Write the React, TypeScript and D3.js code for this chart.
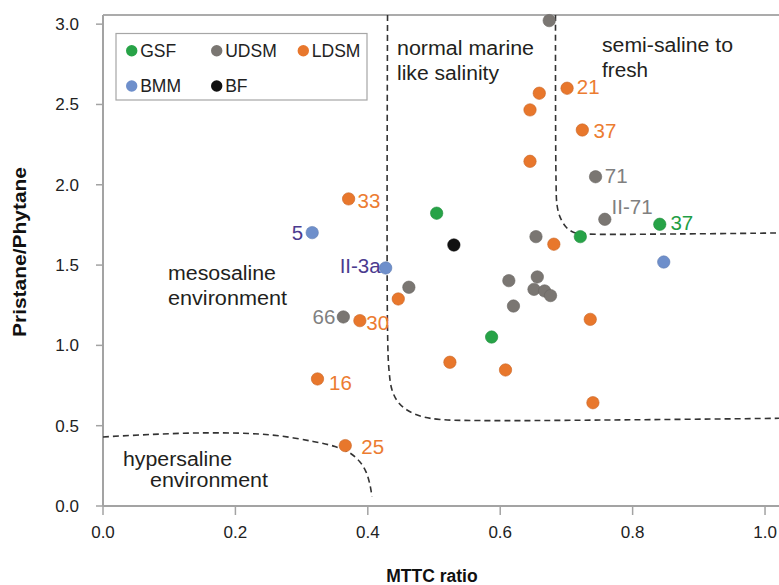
import React from "react";
import * as d3 from "d3";

// ---------- data ----------
const seriesNames = ["GSF", "UDSM", "LDSM", "BMM", "BF"];

const gsf: [number, number][] = [
  [0.504, 1.823], [0.721, 1.677], [0.587, 1.052], [0.841, 1.754],
];
const udsm: [number, number][] = [
  [0.674, 3.022], [0.744, 2.05], [0.758, 1.785], [0.654, 1.677], [0.363, 1.177],
  [0.462, 1.362], [0.613, 1.403], [0.656, 1.426], [0.651, 1.349], [0.667, 1.339],
  [0.676, 1.31], [0.62, 1.245],
];
const ldsm: [number, number][] = [
  [0.701, 2.601], [0.659, 2.57], [0.645, 2.466], [0.724, 2.341], [0.645, 2.146],
  [0.371, 1.912], [0.681, 1.63], [0.446, 1.289], [0.388, 1.154], [0.736, 1.162],
  [0.324, 0.791], [0.366, 0.376], [0.524, 0.895], [0.608, 0.847], [0.74, 0.643],
];
const bmm: [number, number][] = [[0.316, 1.702], [0.427, 1.482], [0.847, 1.519]];
const bf: [number, number][] = [[0.53, 1.625]];

const seriesData = [gsf, udsm, ldsm, bmm, bf];

// sample labels: series, point index, text
const pointLabels = [
  { series: "BMM", index: 0, text: "5" },
  { series: "BMM", index: 1, text: "II-3a" },
  { series: "LDSM", index: 5, text: "33" },
  { series: "UDSM", index: 4, text: "66" },
  { series: "LDSM", index: 8, text: "30" },
  { series: "LDSM", index: 10, text: "16" },
  { series: "LDSM", index: 11, text: "25" },
  { series: "LDSM", index: 0, text: "21" },
  { series: "LDSM", index: 3, text: "37" },
  { series: "UDSM", index: 1, text: "71" },
  { series: "UDSM", index: 2, text: "II-71" },
  { series: "GSF", index: 3, text: "37" },
];

// environment boundaries (data coordinates)
const boundaryMarine: [number, number][] = [
  [0.4298, 3.057], [0.4298, 1.096], [0.432, 0.847], [0.4366, 0.722], [0.4456, 0.648],
  [0.4592, 0.598], [0.4819, 0.557], [0.5091, 0.539], [0.5695, 0.532], [0.7508, 0.535],
  [1.0211, 0.546],
];
const boundaryFresh: [number, number][] = [
  [0.6835, 3.057], [0.6843, 2.03], [0.6858, 1.874], [0.6903, 1.8], [0.6994, 1.737],
  [0.7115, 1.703], [0.7281, 1.694], [0.8716, 1.694], [1.0211, 1.7],
];
const boundaryHyper: [number, number][] = [
  [0, 0.43], [0.071, 0.445], [0.1465, 0.455], [0.2221, 0.451], [0.2674, 0.436],
  [0.3172, 0.402], [0.3505, 0.37], [0.3731, 0.33], [0.3882, 0.274], [0.3973, 0.212],
  [0.4033, 0.131], [0.4063, 0.056],
];

const xTicks = [0, 0.2, 0.4, 0.6, 0.8, 1.0];
const yTicks = [0, 0.5, 1.0, 1.5, 2.0, 2.5, 3.0];

const regionLabels = [
  { lines: ["normal marine", "like salinity"] },
  { lines: ["semi-saline to", "fresh"] },
  { lines: ["mesosaline", "environment"] },
  { lines: ["hypersaline", "environment"] },
];

// ---------- styles / layout ----------
const W = 779;
const H = 585;
const pointColors: Record<string, string> = {
  GSF: "#27a347",
  UDSM: "#7a7672",
  LDSM: "#e8772c",
  BMM: "#6e8fcb",
  BF: "#111111",
};
const labelColors: Record<string, string> = {
  GSF: "#1f9e45",
  UDSM: "#808080",
  LDSM: "#ec7c31",
  BMM: "#4b3b8f",
  BF: "#111111",
};
const labelPlace: Record<string, { dx: number; dy: number; anchor: string }> = {
  "5": { dx: -9, dy: 7.5, anchor: "end" },
  "II-3a": { dx: -5, dy: 5.5, anchor: "end" },
  "33": { dx: 9, dy: 9.3, anchor: "start" },
  "66": { dx: -8, dy: 7, anchor: "end" },
  "30": { dx: 6.5, dy: 9.5, anchor: "start" },
  "16": { dx: 11.5, dy: 11, anchor: "start" },
  "25": { dx: 16, dy: 8.3, anchor: "start" },
  "21": { dx: 9.7, dy: 5.8, anchor: "start" },
  "LDSM-37": { dx: 11.3, dy: 7.7, anchor: "start" },
  "71": { dx: 9.3, dy: 6, anchor: "start" },
  "II-71": { dx: 6.7, dy: -5.3, anchor: "start" },
  "GSF-37": { dx: 10.7, dy: 5.8, anchor: "start" },
};
const regionPlace = [
  { x: 397, y: 55, lens: [137, 102] },
  { x: 602, y: 52, lens: [131, 46] },
  { x: 168, y: 280, lens: [108, 119] },
  { x: 123, y: 466, lens: [109, 118], indent: [0, 27] },
];
const legendPos = [
  { cx: 131.7, cy: 50.7 },
  { cx: 216.7, cy: 50.7 },
  { cx: 303.3, cy: 50.7 },
  { cx: 131.7, cy: 86 },
  { cx: 216.7, cy: 86 },
];

const FONT = "'Liberation Sans', Arial, Helvetica, sans-serif";

export default function App() {
  const x = d3.scaleLinear().domain([0, 1.0211]).range([103, 779]);
  const y = d3.scaleLinear().domain([0, 3.057]).range([506, 15]);
  const line = d3
    .line<[number, number]>()
    .x((d) => x(d[0]))
    .y((d) => y(d[1]))
    .curve(d3.curveCatmullRom.alpha(0.5));

  const axisColor = "#a3a3a3";
  const dash = { stroke: "#333", strokeWidth: 1.6, strokeDasharray: "6,4", fill: "none" };

  return (
    <svg
      width={W}
      height={H}
      viewBox={`0 0 ${W} ${H}`}
      style={{ position: "absolute", left: 0, top: 0, background: "#fff" }}
      fontFamily={FONT}
    >
      <rect x={0} y={0} width={W} height={H} fill="#fff" />
      {/* frame top line */}
      <line x1={x(0)} x2={W} y1={y.range()[1]} y2={y.range()[1]} stroke="#8f8f8f" strokeWidth={1.5} />
      {/* axes */}
      <line x1={x(0)} x2={x(0)} y1={y.range()[1]} y2={y(0)} stroke={axisColor} strokeWidth={2} />
      <line x1={x(0)} x2={W} y1={y(0)} y2={y(0)} stroke={axisColor} strokeWidth={2} />
      {yTicks.map((t) => (
        <g key={"yt" + t}>
          <line x1={x(0) - 7} x2={x(0)} y1={y(t)} y2={y(t)} stroke={axisColor} strokeWidth={1.5} />
          <text x={79} y={y(t) + 6} textAnchor="end" fontSize={17} fill="#222">
            {d3.format(".1f")(t)}
          </text>
        </g>
      ))}
      {xTicks.map((t) => (
        <g key={"xt" + t}>
          <line x1={x(t)} x2={x(t)} y1={y(0)} y2={y(0) + 9} stroke={axisColor} strokeWidth={1.5} />
          <text x={x(t)} y={538} textAnchor="middle" fontSize={17} fill="#222">
            {d3.format(".1f")(t)}
          </text>
        </g>
      ))}
      <text
        transform={`translate(26,252) rotate(-90)`}
        textAnchor="middle"
        fontSize={17.5}
        fontWeight="bold"
        fill="#111"
        textLength={170}
        lengthAdjust="spacingAndGlyphs"
      >
        Pristane/Phytane
      </text>
      <text x={432} y={582} textAnchor="middle" fontSize={17.5} fontWeight="bold" fill="#111">
        MTTC ratio
      </text>

      {/* boundaries */}
      <path d={line(boundaryMarine) || ""} {...dash} />
      <path d={line(boundaryFresh) || ""} {...dash} />
      <path d={line(boundaryHyper) || ""} {...dash} />

      {/* region labels */}
      {regionLabels.map((r, i) =>
        r.lines.map((ln, j) => (
          <text
            key={"r" + i + j}
            x={regionPlace[i].x + (regionPlace[i].indent ? regionPlace[i].indent![j] : 0)}
            y={regionPlace[i].y + j * (i === 3 ? 21 : 24.5)}
            fontSize={19.5}
            fill="#231f20"
            textLength={regionPlace[i].lens[j]}
            lengthAdjust="spacingAndGlyphs"
          >
            {ln}
          </text>
        ))
      )}

      {/* points */}
      {seriesData.map((pts, si) =>
        pts.map((p, pi) => {
          const c = pointColors[seriesNames[si]];
          return (
            <circle
              key={"p" + si + "-" + pi}
              cx={x(p[0])}
              cy={y(p[1])}
              r={6.2}
              fill={c}
              stroke={d3.color(c)!.darker(0.4).formatHex()}
              strokeWidth={0.6}
            />
          );
        })
      )}

      {/* point labels */}
      {pointLabels.map((l, i) => {
        const si = seriesNames.indexOf(l.series);
        const p = seriesData[si][l.index];
        const key = labelPlace[l.series + "-" + l.text] ? l.series + "-" + l.text : l.text;
        const pl = labelPlace[key];
        return (
          <text
            key={"l" + i}
            x={x(p[0]) + pl.dx}
            y={y(p[1]) + pl.dy}
            textAnchor={pl.anchor as any}
            fontSize={20.5}
            fill={labelColors[l.series]}
          >
            {l.text}
          </text>
        );
      })}

      {/* legend */}
      <rect x={116} y={33.5} width={251} height={66.5} fill="#fff" stroke="#a6a6a6" strokeWidth={1.2} />
      {seriesNames.map((s, i) => (
        <g key={"lg" + s}>
          <circle cx={legendPos[i].cx} cy={legendPos[i].cy} r={5.7} fill={pointColors[s]} />
          <text x={legendPos[i].cx + 8.5} y={legendPos[i].cy + 6.3} fontSize={17.5} fill="#222">
            {s}
          </text>
        </g>
      ))}
    </svg>
  );
}
